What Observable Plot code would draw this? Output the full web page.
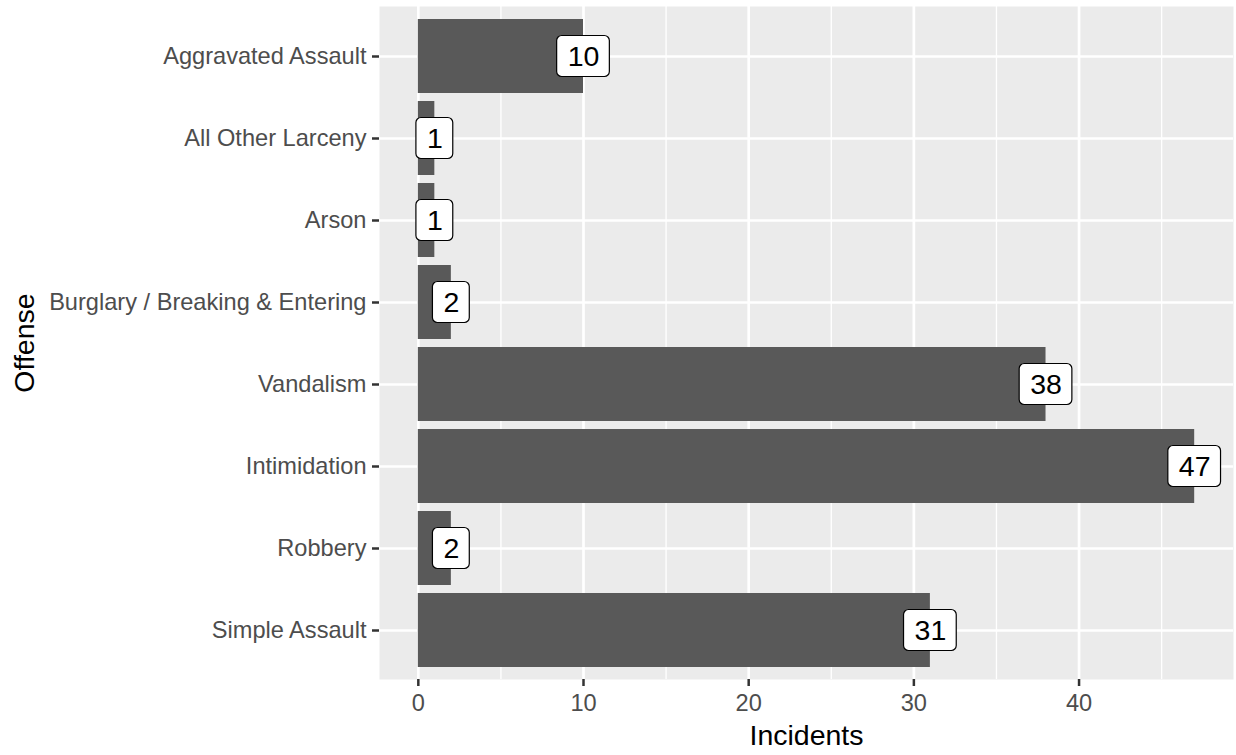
<!DOCTYPE html>
<html><head><meta charset="utf-8">
<script src="https://cdn.jsdelivr.net/npm/d3@7"></script>
<script src="https://cdn.jsdelivr.net/npm/@observablehq/plot@0.6"></script>
<style>
html,body{margin:0;padding:0;background:#fff}
svg{display:block}
</style>
</head><body><div id="chart"></div>
<script>
const offenses = [
  "Aggravated Assault",
  "All Other Larceny",
  "Arson",
  "Burglary / Breaking & Entering",
  "Vandalism",
  "Intimidation",
  "Robbery",
  "Simple Assault"
];
const incidents = [10, 1, 1, 2, 38, 47, 2, 31];
const majorTicks = [0, 10, 20, 30, 40];
const minorTicks = [5, 15, 25, 35, 45];
const xTitle = "Incidents";
const yTitle = "Offense";

const data = offenses.map((o, i) => ({offense: o, n: incidents[i]}));
const xmax = d3.max(incidents);
const font = "'Liberation Sans', Arial, Helvetica, sans-serif";

const chart = Plot.plot({
  width: 1236,
  height: 755,
  marginLeft: 379,
  marginRight: 3,
  marginTop: 6,
  marginBottom: 76,
  style: {fontFamily: font, fontSize: "23.4px", background: "#ffffff", color: "#000"},
  x: {domain: [-0.05 * xmax, 1.05 * xmax]},
  y: {domain: offenses, paddingInner: 0.1, paddingOuter: 0.15},
  marks: [
    Plot.frame({fill: "#EBEBEB", stroke: "none"}),
    Plot.ruleX(minorTicks, {stroke: "white", strokeWidth: 1.35}),
    Plot.ruleX(majorTicks, {stroke: "white", strokeWidth: 2.7}),
    Plot.gridY({stroke: "white", strokeOpacity: 1, strokeWidth: 2.7}),
    Plot.barX(data, {x: "n", y: "offense", fill: "#595959"}),
    Plot.text(data, {x: "n", y: "offense", text: d => String(d.n), fontSize: 28.5, fill: "black"}),
    Plot.axisX({ticks: majorTicks, tickSize: 7, tickPadding: 8, stroke: "#333333", strokeWidth: 2.5, fill: "#4D4D4D", fontSize: 23.6, label: null}),
    Plot.axisY({tickSize: 7, tickPadding: 6, stroke: "#333333", strokeWidth: 2.5, fill: "#4D4D4D", fontSize: 23.6, label: null}),
    Plot.text([yTitle], {frameAnchor: "left", dx: -355, rotate: -90, textAnchor: "middle", lineAnchor: "middle", fontSize: 28.5, fill: "black"}),
    Plot.text([xTitle], {frameAnchor: "bottom", dy: 56, textAnchor: "middle", lineAnchor: "middle", fontSize: 28.5, fill: "black"})
  ]
});

document.getElementById("chart").append(chart);

// label boxes (geom_label style) behind the value labels
const xs = chart.scale("x"), ys = chart.scale("y");
const labelG = chart.querySelector('g[aria-label="text"]');
if (labelG) {
  const ns = "http://www.w3.org/2000/svg";
  const boxG = document.createElementNS(ns, "g");
  const texts = labelG.querySelectorAll("text");
  texts.forEach((t, i) => {
    const d = data[i];
    const w = t.getBBox().width + 21;
    const h = 41;
    const cx = xs.apply(d.n);
    const cy = ys.apply(d.offense) + ys.bandwidth / 2;
    const r = document.createElementNS(ns, "rect");
    r.setAttribute("x", cx - w / 2);
    r.setAttribute("y", cy - h / 2);
    r.setAttribute("width", w);
    r.setAttribute("height", h);
    r.setAttribute("rx", 5);
    r.setAttribute("ry", 5);
    r.setAttribute("fill", "white");
    r.setAttribute("stroke", "black");
    r.setAttribute("stroke-width", 1.2);
    boxG.appendChild(r);
  });
  labelG.parentNode.insertBefore(boxG, labelG);
}
</script>
</body></html>
